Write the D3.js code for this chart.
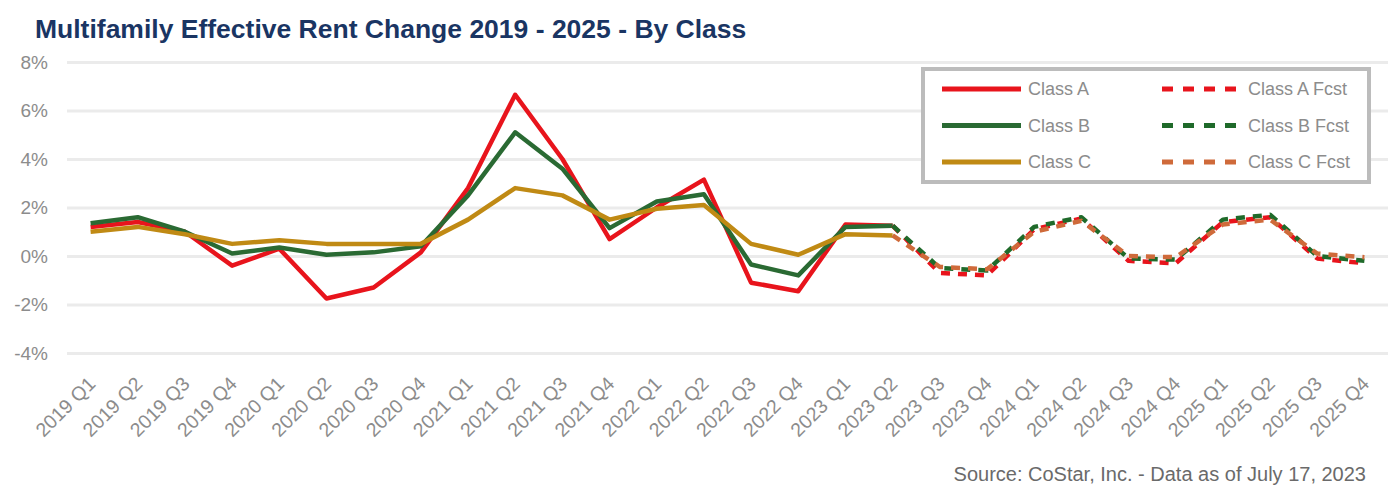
<!DOCTYPE html>
<html><head><meta charset="utf-8">
<script src="https://cdn.jsdelivr.net/npm/d3@7"></script>
<style>
body{margin:0;background:#fff;}
svg{display:block;font-family:"Liberation Sans",Arial,sans-serif;}
</style>
</head><body>
<svg id="c" width="1400" height="489"></svg>
<script>
const quarters = ["2019 Q1","2019 Q2","2019 Q3","2019 Q4","2020 Q1","2020 Q2","2020 Q3","2020 Q4",
  "2021 Q1","2021 Q2","2021 Q3","2021 Q4","2022 Q1","2022 Q2","2022 Q3","2022 Q4",
  "2023 Q1","2023 Q2","2023 Q3","2023 Q4","2024 Q1","2024 Q2","2024 Q3","2024 Q4",
  "2025 Q1","2025 Q2","2025 Q3","2025 Q4"];
const yTicks = [-4,-2,0,2,4,6,8];
const classA = [1.2,1.4,1.0,-0.4,0.3,-1.75,-1.3,0.15,2.8,6.65,4.0,0.7,2.0,3.15,-1.1,-1.45,1.3,1.25,null,null,null,null,null,null,null,null,null,null];
const classB = [1.35,1.6,1.0,0.1,0.35,0.05,0.15,0.4,2.5,5.1,3.6,1.15,2.25,2.55,-0.35,-0.8,1.2,1.25,null,null,null,null,null,null,null,null,null,null];
const classC = [1.0,1.2,0.9,0.5,0.65,0.5,0.5,0.5,1.5,2.8,2.5,1.5,1.95,2.1,0.5,0.05,0.9,0.85,null,null,null,null,null,null,null,null,null,null];
const classAFcst = [null,null,null,null,null,null,null,null,null,null,null,null,null,null,null,null,null,1.25,-0.7,-0.8,1.1,1.55,-0.2,-0.3,1.4,1.6,-0.1,-0.3];
const classBFcst = [null,null,null,null,null,null,null,null,null,null,null,null,null,null,null,null,null,1.25,-0.5,-0.6,1.2,1.6,-0.1,-0.15,1.5,1.7,0.0,-0.2];
const classCFcst = [null,null,null,null,null,null,null,null,null,null,null,null,null,null,null,null,null,0.85,-0.45,-0.55,1.0,1.45,0.0,-0.05,1.3,1.5,0.1,-0.05];
const seriesNames = ["Class A","Class B","Class C","Class A Fcst","Class B Fcst","Class C Fcst"];
const colors = ["#E8141C","#2A6A33","#C08A14","#E8141C","#1F6A2A","#CF6A3A"];
const title = "Multifamily Effective Rent Change 2019 - 2025 - By Class";
const source = "Source: CoStar, Inc. - Data as of July 17, 2023";

const svg = d3.select("#c");
const L = 67, R = 1388, T = 62, B = 353;
const x = d3.scaleBand().domain(quarters).range([L, R]).padding(0);
const cx = q => x(q) + x.bandwidth()/2;
const y = d3.scaleLinear().domain([-4, 8]).range([B, T]);

svg.append("text").attr("x", 35).attr("y", 38).attr("font-size", 26.5).attr("font-weight", "bold")
  .attr("fill", "#1A3563").text(title);

// y axis with gridlines
const ya = svg.append("g").attr("transform", `translate(${L},0)`)
  .call(d3.axisLeft(y).tickValues(yTicks).tickFormat(d => d + "%").tickSize(-(R - L)).tickPadding(19));
ya.select(".domain").remove();
ya.selectAll(".tick line").attr("stroke", "#ebebeb").attr("stroke-width", 3);
ya.selectAll(".tick text").attr("font-size", 19).attr("fill", "#8c8c8c").attr("font-family", "Liberation Sans, Arial, sans-serif");

// x axis labels
const xa = svg.append("g").attr("transform", `translate(0,${B})`)
  .call(d3.axisBottom(x).tickSize(0).tickPadding(0));
xa.select(".domain").remove();
xa.selectAll(".tick text")
  .attr("font-size", 19.5).attr("fill", "#8c8c8c").attr("font-family", "Liberation Sans, Arial, sans-serif")
  .attr("text-anchor", "end").attr("y", 0).attr("dy", 0)
  .attr("transform", "translate(6,32) rotate(-45)");

const data = [classA, classB, classC, classAFcst, classBFcst, classCFcst];
const line = d3.line().defined(d => d.v !== null).x(d => cx(d.q)).y(d => y(d.v));
data.forEach((arr, i) => {
  const pts = arr.map((v, j) => ({q: quarters[j], v}));
  svg.append("path").datum(pts).attr("d", line).attr("fill", "none")
    .attr("stroke", colors[i]).attr("stroke-width", 4.5)
    .attr("stroke-linejoin", "round")
    .attr("stroke-dasharray", i >= 3 ? "9,8" : null);
});

// legend
const lg = svg.append("g");
lg.append("rect").attr("x", 923).attr("y", 69).attr("width", 446).attr("height", 113)
  .attr("fill", "#fff").attr("stroke", "#bcbcbc").attr("stroke-width", 4);
const rows = [89, 125.5, 162];
seriesNames.forEach((n, i) => {
  const col = i < 3 ? 0 : 1;
  const ry = rows[i % 3];
  const x0 = col === 0 ? 942 : 1162;
  lg.append("line").attr("x1", x0).attr("x2", x0 + 79).attr("y1", ry).attr("y2", ry)
    .attr("stroke", colors[i]).attr("stroke-width", 5)
    .attr("stroke-dasharray", col ? "11,10" : null);
  lg.append("text").attr("x", x0 + 86).attr("y", ry).attr("dy", "0.35em")
    .attr("font-size", 18).attr("fill", "#8c8c8c").text(n);
});

svg.append("text").attr("x", 1366).attr("y", 481).attr("text-anchor", "end")
  .attr("font-size", 20).attr("fill", "#6a6a6a").text(source);
</script>
</body></html>
